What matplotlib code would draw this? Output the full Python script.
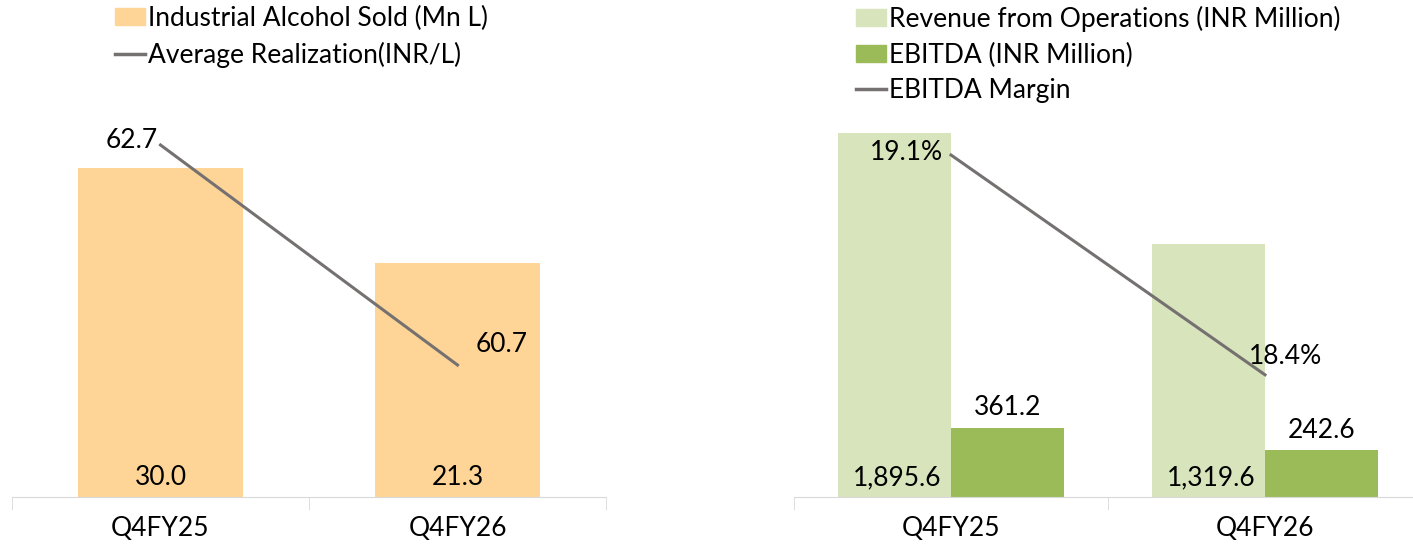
import matplotlib.pyplot as plt
from matplotlib.patches import Patch
from matplotlib.lines import Line2D

plt.rcParams['font.family'] = ['Lato', 'DejaVu Sans']

quarters = ["Q4FY25", "Q4FY26"]
alcohol_sold = [30.0, 21.3]
avg_realization = [62.7, 60.7]
revenue = [1895.6, 1319.6]
ebitda = [361.2, 242.6]
ebitda_margin = [19.1, 18.4]

c_alc = "#FED597"
c_rev = "#D8E4BC"
c_ebit = "#9BBB59"
c_line = "#767171"
c_axis = "#D9D9D9"
fs = 19

W, H = 1413, 544
fig = plt.figure(figsize=(W / 100, H / 100), dpi=100)


def px_axes(x0, x1, ytop, ybot):
    return fig.add_axes([x0 / W, 1 - ybot / H, (x1 - x0) / W, (ybot - ytop) / H])


def style(ax, ncat):
    for s in ["top", "right", "left"]:
        ax.spines[s].set_visible(False)
    ax.spines["bottom"].set_color(c_axis)
    ax.set_yticks([])
    ax.set_xlim(-0.5, ncat - 0.5)
    ax.set_xticks(range(ncat))
    ax.set_xticklabels(quarters, fontsize=fs)
    ax.tick_params(axis="x", length=0, pad=14)
    ax.set_xticks([i - 0.5 for i in range(ncat + 1)], minor=True)
    ax.tick_params(axis="x", which="minor", length=9, color=c_axis)


x = range(len(quarters))

# left panel
ax1 = px_axes(12, 606, 110, 497)
style(ax1, 2)
ax1.bar(x, alcohol_sold, width=0.556, color=c_alc, zorder=2)
ax1.set_ylim(0, 30 * 387 / 329)
for i, v in enumerate(alcohol_sold):
    ax1.text(i, 0.6, f"{v:.1f}", ha="center", va="bottom", fontsize=fs)
ax1b = ax1.twinx()
ax1b.axis("off")
ax1b.set_ylim(62.7 - 352 / 110, 62.7 + 35 / 110)
ax1b.plot(x, avg_realization, color=c_line, lw=2.2)
ax1b.annotate(f"{avg_realization[0]:.1f}", (0, avg_realization[0]), xytext=(-2, 3),
              textcoords="offset points", ha="right", va="center", fontsize=fs)
ax1b.annotate(f"{avg_realization[1]:.1f}", (1, avg_realization[1]), xytext=(32, 15),
              textcoords="offset points", ha="center", va="center", fontsize=fs)

# right panel
ax2 = px_axes(794, 1422, 110, 497)
style(ax2, 2)
bw = 0.36
ax2.bar([i - bw / 2 for i in x], revenue, width=bw, color=c_rev, zorder=2)
ax2.bar([i + bw / 2 for i in x], ebitda, width=bw, color=c_ebit, zorder=2)
ax2.set_ylim(0, 1895.6 * 387 / 364)
for i in x:
    ax2.text(i - bw / 2 + 0.01, 35, f"{revenue[i]:,.1f}", ha="center", va="bottom", fontsize=fs)
    ax2.text(i + bw / 2, ebitda[i] + 40, f"{ebitda[i]:.1f}", ha="center", va="bottom", fontsize=fs)
ax2b = ax2.twinx()
ax2b.axis("off")
ax2b.set_ylim(19.1 - 342 / 314, 19.1 + 45 / 314)
ax2b.plot(x, ebitda_margin, color=c_line, lw=2.2)
ax2b.annotate(f"{ebitda_margin[0]:.1f}%", (0, ebitda_margin[0]), xytext=(-6, 2),
              textcoords="offset points", ha="right", va="center", fontsize=fs)
ax2b.annotate(f"{ebitda_margin[1]:.1f}%", (1, ebitda_margin[1]), xytext=(15, 13),
              textcoords="offset points", ha="center", va="center", fontsize=fs)

# legends
leg_kw = dict(loc="upper left", frameon=False, fontsize=fs, handlelength=1.15,
              handleheight=0.6, handletextpad=0.1, labelspacing=0.4,
              borderaxespad=0, borderpad=0)
fig.legend([Patch(color=c_alc), Line2D([], [], color=c_line, lw=2.5)],
           ["Industrial Alcohol Sold (Mn L)", "Average Realization(INR/L)"],
           bbox_to_anchor=(115 / W, 1 - 6 / H), **leg_kw)
fig.legend([Patch(color=c_rev), Patch(color=c_ebit), Line2D([], [], color=c_line, lw=2.5)],
           ["Revenue from Operations (INR Million)", "EBITDA (INR Million)", "EBITDA Margin"],
           bbox_to_anchor=(856 / W, 1 - 6 / H), **leg_kw)

fig.savefig("out.png", dpi=100)
